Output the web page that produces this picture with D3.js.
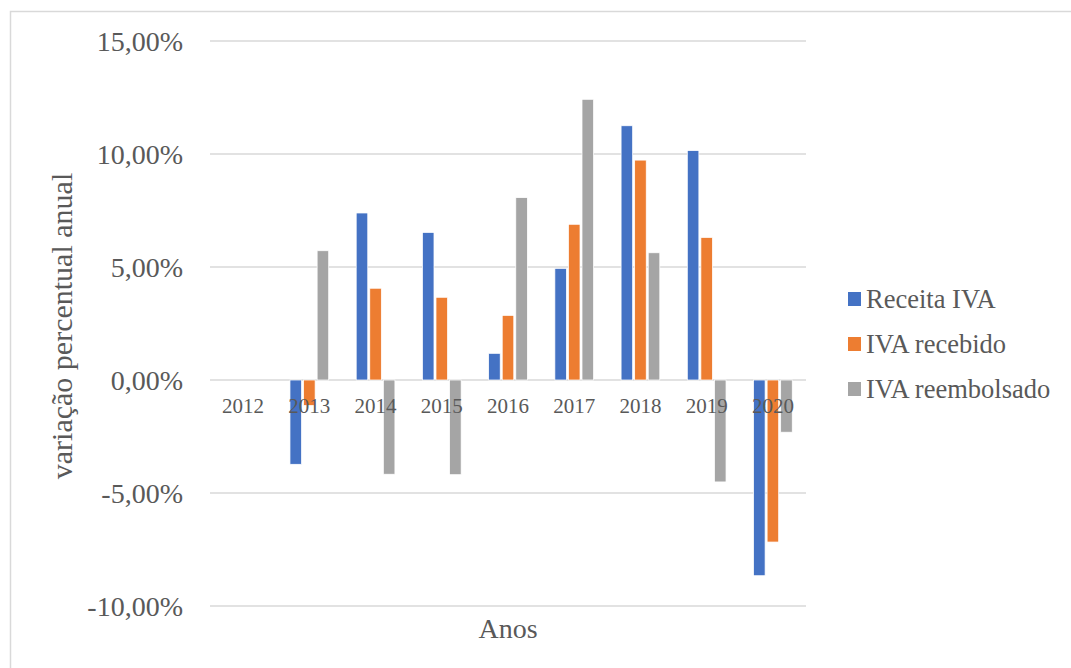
<!DOCTYPE html>
<html>
<head>
<meta charset="utf-8">
<script src="https://cdn.jsdelivr.net/npm/d3@7"></script>
<style>
  body { margin: 0; background: #fff; }
  text { font-family: "Liberation Serif", "Times New Roman", serif; fill: #595959; }
</style>
</head>
<body>
<svg id="chart" width="1071" height="668"></svg>
<script>
// data (percent)
var years = ["2012", "2013", "2014", "2015", "2016", "2017", "2018", "2019", "2020"];
var seriesNames = ["Receita IVA", "IVA recebido", "IVA reembolsado"];
var receitaIVA = [0, -3.73, 7.39, 6.53, 1.18, 4.94, 11.25, 10.15, -8.66];
var ivaRecebido = [0, -1.13, 4.06, 3.66, 2.86, 6.89, 9.73, 6.31, -7.17];
var ivaReembolsado = [0, 5.72, -4.17, -4.19, 8.07, 12.42, 5.63, -4.51, -2.31];
var yTicks = [-10, -5, 0, 5, 10, 15];
var colors = ["#4472C4", "#ED7D31", "#A5A5A5"];

var allSeries = [receitaIVA, ivaRecebido, ivaReembolsado];

var svg = d3.select("#chart");

// outer chart border
svg.append("rect")
    .attr("x", 10.5).attr("y", 11.5)
    .attr("width", 1100).attr("height", 700)
    .attr("fill", "none")
    .attr("stroke", "#d9d9d9")
    .attr("stroke-width", 1.5);

// plot area (window.top is reserved, so name these plot*)
var plotLeft = 210, plotRight = 806, plotTop = 41, plotBottom = 606;

var y = d3.scaleLinear().domain([-10, 15]).range([plotBottom, plotTop]);
var x0 = d3.scaleBand().domain(years).range([plotLeft, plotRight]).padding(0);
var groupW = x0.bandwidth() * 0.615;
var x1 = d3.scaleBand().domain(d3.range(3)).range([0, groupW]).padding(0);

// gridlines
svg.append("g")
    .selectAll("line")
    .data(yTicks)
    .join("line")
    .attr("x1", plotLeft).attr("x2", plotRight)
    .attr("y1", d => y(d)).attr("y2", d => y(d))
    .attr("stroke", "#d9d9d9")
    .attr("stroke-width", 1.5);

// y tick labels
svg.append("g")
    .selectAll("text")
    .data(yTicks)
    .join("text")
    .attr("x", 183)
    .attr("y", d => y(d))
    .attr("dy", "0.35em")
    .attr("text-anchor", "end")
    .style("font-size", "28px")
    .text(d => d3.format(".2f")(d).replace(".", ",").replace("−", "-") + "%");

// bars
var groups = svg.append("g")
    .selectAll("g")
    .data(years)
    .join("g")
    .attr("transform", d => "translate(" + (x0(d) + (x0.bandwidth() - groupW) / 2) + ",0)");

groups.selectAll("rect")
    .data((d, i) => allSeries.map((s, k) => ({ k: k, v: s[i] })))
    .join("rect")
    .attr("x", d => x1(d.k) + 1)
    .attr("width", x1.bandwidth() - 2)
    .attr("y", d => y(Math.max(0, d.v)))
    .attr("height", d => Math.abs(y(d.v) - y(0)))
    .attr("fill", d => colors[d.k])
    .attr("stroke", "#fff")
    .attr("stroke-width", 0.75);

// category labels sit on the zero line, over the bars
svg.append("g")
    .selectAll("text")
    .data(years)
    .join("text")
    .attr("x", d => x0(d) + x0.bandwidth() / 2)
    .attr("y", 412.5)
    .attr("text-anchor", "middle")
    .style("font-size", "21px")
    .text(d => d);

// axis titles
svg.append("text")
    .attr("x", (plotLeft + plotRight) / 2)
    .attr("y", 638)
    .attr("text-anchor", "middle")
    .style("font-size", "28px")
    .text("Anos");

svg.append("text")
    .attr("transform", "translate(72," + 326 + ") rotate(-90)")
    .attr("text-anchor", "middle")
    .style("font-size", "30px")
    .text("variação percentual anual");

// legend
var legend = svg.append("g")
    .selectAll("g")
    .data(seriesNames)
    .join("g")
    .attr("transform", (d, i) => "translate(848," + (308 + i * 45) + ")");

legend.append("rect")
    .attr("x", 0).attr("y", -16)
    .attr("width", 13).attr("height", 14)
    .attr("fill", (d, i) => colors[i]);

legend.append("text")
    .attr("x", 18)
    .attr("y", 0)
    .style("font-size", "26.5px")
    .text(d => d);
</script>
</body>
</html>
